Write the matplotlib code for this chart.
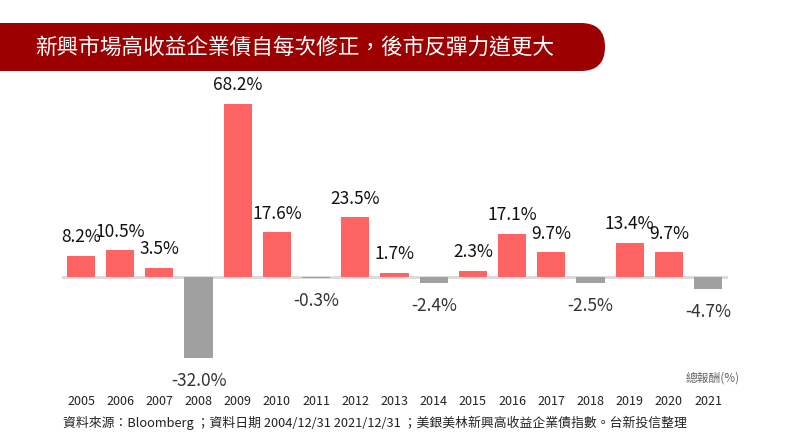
import matplotlib
matplotlib.use("Agg")
import matplotlib.pyplot as plt
from matplotlib.patches import FancyBboxPatch

plt.rcParams['font.family'] = ['Noto Sans CJK TC', 'DejaVu Sans']

years = ["2005", "2006", "2007", "2008", "2009", "2010", "2011", "2012", "2013",
         "2014", "2015", "2016", "2017", "2018", "2019", "2020", "2021"]
returns = [8.2, 10.5, 3.5, -32.0, 68.2, 17.6, -0.3, 23.5, 1.7,
           -2.4, 2.3, 17.1, 9.7, -2.5, 13.4, 9.7, -4.7]
title = "新興市場高收益企業債自每次修正，後市反彈力道更大"
unit_label = "總報酬(%)"
footnote = "資料來源：Bloomberg ；資料日期 2004/12/31 2021/12/31 ；美銀美林新興高收益企業債指數。台新投信整理"

W, H = 800, 440
fig = plt.figure(figsize=(8, 4.4), dpi=100)

# overlay for banner and text in pixel coords
ov = fig.add_axes([0, 0, 1, 1])
ov.set_xlim(0, W)
ov.set_ylim(H, 0)
ov.axis('off')
ov.add_patch(FancyBboxPatch((-40, 23), 645, 48,
                            boxstyle="round,pad=0,rounding_size=24",
                            fc="#9c0000", ec="none"))
ov.text(35, 48, title, color="white", fontsize=15.6, va="center", ha="left")
ov.text(740, 378, unit_label, color="#666666", fontsize=8.5, va="center", ha="right")
ov.text(63, 423, footnote, color="#222222", fontsize=9.25, va="center", ha="left")

# main axes: x 62..728 px, y 80..380 px
ax = fig.add_axes([62 / W, 1 - 380 / H, (728 - 62) / W, 300 / H])
ax.set_xlim(-0.485, 16.51)
ax.set_ylim(-40.6, 77.65)
x = list(range(len(years)))
colors = ["#ff6464" if v >= 0 else "#a0a0a0" for v in returns]
ax.bar(x, returns, width=0.72, color=colors, zorder=2)
ax.axhline(0, color="#d9d9d9", lw=2, zorder=1)

for xi, v in zip(x, returns):
    if v >= 0:
        ax.annotate(f"{v:.1f}%", (xi, v), xytext=(0, 7), textcoords="offset points",
                    ha="center", va="bottom", fontsize=12.5, color="#111111")
    else:
        ax.annotate(f"{v:.1f}%", (xi, v), xytext=(0, -10), textcoords="offset points",
                    ha="center", va="top", fontsize=12.5, color="#333333")

ax.set_xticks(x)
ax.set_xticklabels(years, fontsize=9, color="#222222")
ax.tick_params(axis='x', length=0, pad=11)
ax.set_yticks([])
for s in ax.spines.values():
    s.set_visible(False)
ax.patch.set_alpha(0)

fig.savefig("out.png", dpi=100)
